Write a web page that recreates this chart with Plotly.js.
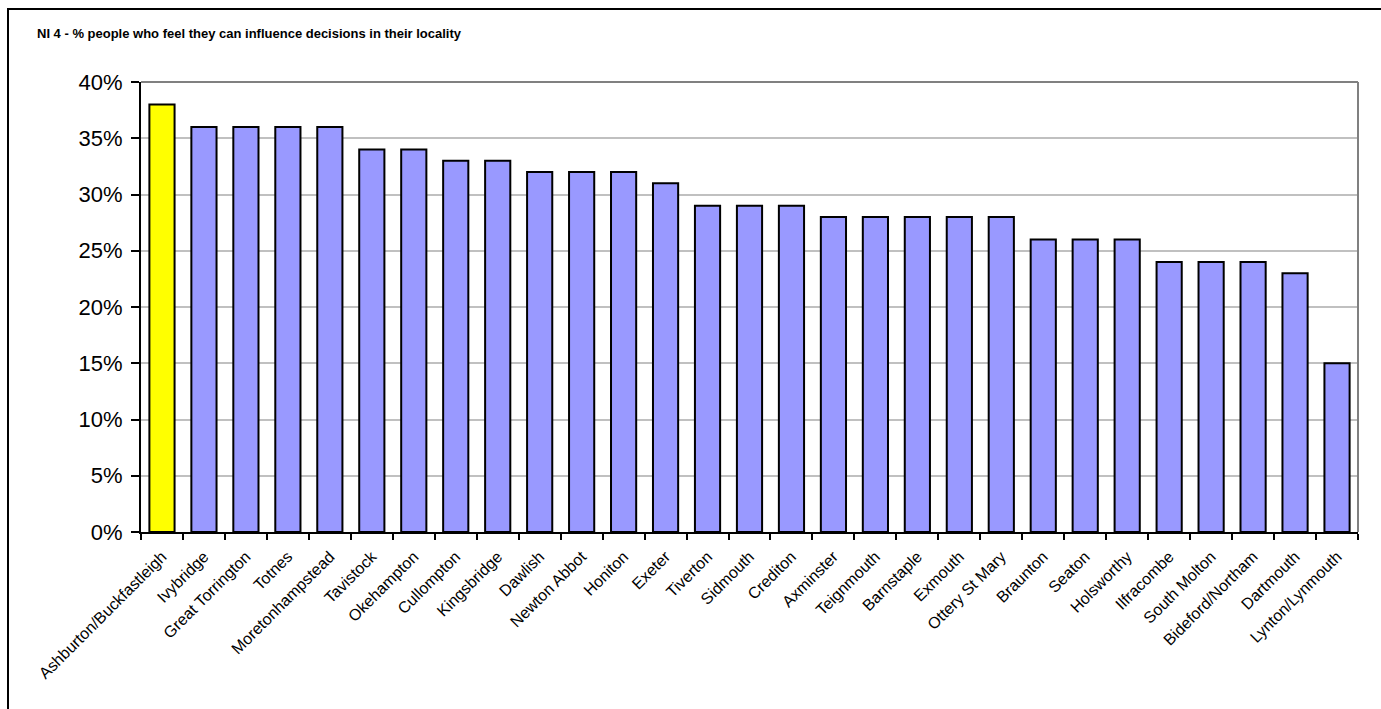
<!DOCTYPE html>
<html>
<head>
<meta charset="utf-8">
<script src="https://cdn.plot.ly/plotly-3.0.1.min.js"></script>
<style>
  html, body { margin: 0; padding: 0; background: #fff; overflow: hidden; }
  #frame { position: absolute; left: 7px; top: 8px; width: 1400px; height: 720px; border-left: 2px solid #000; border-top: 2px solid #000; pointer-events: none; z-index: 5; }
  #chart { position: absolute; left: 0; top: 0; width: 1381px; height: 709px; }
</style>
</head>
<body>
<div id="chart"></div>
<div id="frame"></div>
<script>
const titleText = "NI 4 - % people who feel they can influence decisions in their locality";
const towns = ["Ashburton/Buckfastleigh", "Ivybridge", "Great Torrington", "Totnes", "Moretonhampstead",
  "Tavistock", "Okehampton", "Cullompton", "Kingsbridge", "Dawlish", "Newton Abbot", "Honiton", "Exeter",
  "Tiverton", "Sidmouth", "Crediton", "Axminster", "Teignmouth", "Barnstaple", "Exmouth", "Ottery St Mary",
  "Braunton", "Seaton", "Holsworthy", "Ilfracombe", "South Molton", "Bideford/Northam", "Dartmouth", "Lynton/Lynmouth"];
const influencePct = [38, 36, 36, 36, 36, 34, 34, 33, 33, 32, 32, 32, 31, 29, 29, 29, 28, 28, 28, 28, 28, 26, 26, 26, 24, 24, 24, 23, 15];
const highlightTown = "Ashburton/Buckfastleigh";

const barColors = towns.map(t => t === highlightTown ? "#ffff00" : "#9999ff");
const font = "Arial, 'Liberation Sans', sans-serif";

const trace = {
  type: "bar",
  x: towns,
  y: influencePct,
  marker: { color: barColors, line: { color: "#000000", width: 2 } },
  hoverinfo: "x+y"
};

const layout = {
  width: 1381, height: 709,
  margin: { l: 141, r: 23, t: 82, b: 177, pad: 0 },
  paper_bgcolor: "#ffffff",
  plot_bgcolor: "#ffffff",
  showlegend: false,
  bargap: 0.4,
  font: { family: font, color: "#000" },
  title: {
    text: "<b>" + titleText + "</b>",
    font: { family: font, size: 13, color: "#000" },
    xref: "container", yref: "container",
    x: 37 / 1381, xanchor: "left",
    y: 1 - 33 / 709, yanchor: "middle"
  },
  xaxis: {
    type: "category",
    tickangle: -45,
    tickfont: { family: font, size: 16, color: "#000" },
    showline: true, linecolor: "#000", linewidth: 2,
    ticks: "outside", tickson: "boundaries", ticklen: 6, tickwidth: 2, tickcolor: "#000",
    ticklabelstandoff: 7,
    showgrid: false, zeroline: false,
    range: [-0.5, towns.length - 0.5]
  },
  yaxis: {
    range: [0, 40],
    dtick: 5,
    ticksuffix: "%",
    tickfont: { family: font, size: 22, color: "#000" },
    showline: true, linecolor: "#000", linewidth: 2,
    ticks: "outside", ticklen: 8, tickwidth: 2, tickcolor: "#000",
    ticklabelstandoff: 4,
    showgrid: true, gridcolor: "#c0c0c0", gridwidth: 2,
    zeroline: false
  },
  shapes: [
    { type: "line", xref: "paper", yref: "paper", x0: 0, x1: 1, y0: 1, y1: 1, line: { color: "#808080", width: 2 } },
    { type: "line", xref: "paper", yref: "paper", x0: 1, x1: 1, y0: 0, y1: 1, line: { color: "#808080", width: 2 } }
  ]
};

Plotly.newPlot("chart", [trace], layout, { displayModeBar: false, staticPlot: true });
</script>
</body>
</html>
